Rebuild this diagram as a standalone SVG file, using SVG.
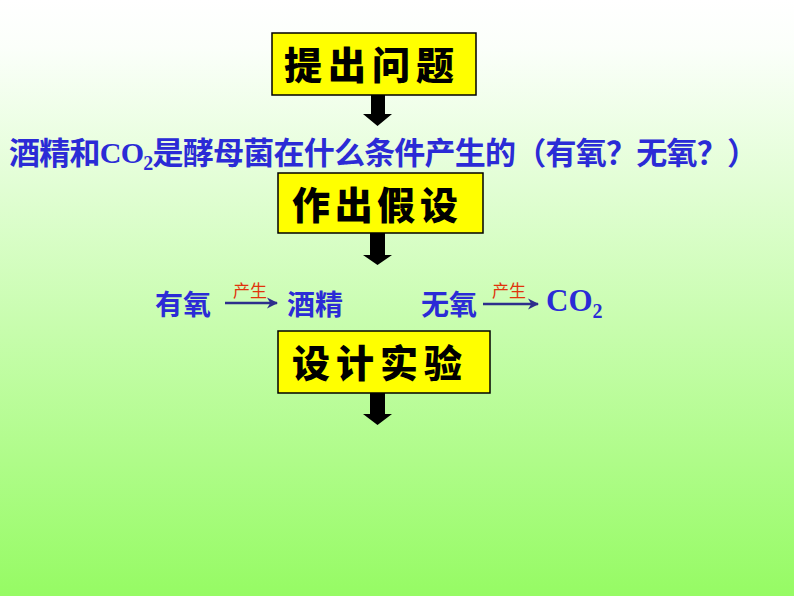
<svg xmlns="http://www.w3.org/2000/svg" width="794" height="596" viewBox="0 0 794 596">
  <defs>
    <linearGradient id="bg" x1="0" y1="0" x2="0" y2="1">
      <stop offset="0" stop-color="#ffffff"/>
      <stop offset="0.08" stop-color="#fbfffa"/>
      <stop offset="1" stop-color="#96fb64"/>
    </linearGradient>
    <marker id="ah" viewBox="0 0 10 10" refX="9" refY="5" markerWidth="4.5" markerHeight="4.5" orient="auto" markerUnits="strokeWidth">
      <path d="M0,0 L10,5 L0,10 L3,5 Z" fill="#2e2e8c"/>
    </marker>
    <style>
      .box { fill: #ffff00; stroke: #000000; stroke-width: 1.5; }
      .title { font-family: "Noto Sans CJK SC", "Noto Sans CJK JP", sans-serif; font-weight: 900; font-size: 38px; fill: #000000; }
      .blue { font-family: "Noto Sans CJK SC", "Noto Sans CJK JP", sans-serif; font-weight: 700; fill: #2b2bd6; }
      .latin { font-family: "Liberation Serif", "Noto Sans CJK SC", serif; font-weight: 700; }
      .red { font-family: "Noto Sans CJK SC", "Noto Sans CJK JP", sans-serif; font-weight: 400; font-size: 17px; fill: #e0340c; }
      .block { fill: #000000; }
      .thin { stroke: #2e2e8c; stroke-width: 2.5; fill: none; marker-end: url(#ah); }
    </style>
  </defs>
  <rect x="0" y="0" width="794" height="596" fill="url(#bg)"/>

  <g id="box-question">
    <rect class="box" x="272" y="33" width="204" height="62"/>
    <text class="title" x="284" y="79" textLength="170" lengthAdjust="spacing">提出问题</text>
  </g>

  <g id="question-text">
    <text class="blue" x="9" y="164" font-size="31" textLength="749" lengthAdjust="spacing">酒精和<tspan class="latin" font-size="30" dy="-1">CO</tspan><tspan class="latin" font-size="20" dy="7">2</tspan><tspan dy="-6">是酵母菌在什么条件产生的（有氧？无氧？）</tspan></text>
  </g>

  <g id="box-hypothesis">
    <rect class="box" x="278" y="173" width="205" height="60"/>
    <text class="title" x="292" y="219" textLength="166" lengthAdjust="spacing">作出假设</text>
  </g>

  <g id="hyp-aerobic">
    <text class="blue" x="155" y="315" font-size="28">有氧</text>
    <text class="red" x="233" y="297">产生</text>
    <text class="blue" x="287" y="315" font-size="28">酒精</text>
  </g>

  <g id="hyp-anaerobic">
    <text class="blue" x="421" y="315" font-size="28">无氧</text>
    <text class="red" x="492" y="297">产生</text>
    <text class="blue" x="546" y="311" font-size="31"><tspan class="latin">CO</tspan><tspan class="latin" font-size="20" dy="7">2</tspan></text>
  </g>

  <g id="box-experiment">
    <rect class="box" x="278" y="331" width="212" height="62"/>
    <text class="title" x="292" y="377" textLength="170" lengthAdjust="spacing">设计实验</text>
  </g>

  <g id="connectors">
    <polygon class="block" points="371,95 385,95 385,114 392,114 377.5,126 363,114 371,114"/>
    <polygon class="block" points="370,233 385,233 385,255 392,255 377.5,265 363,255 370,255"/>
    <polygon class="block" points="370,393 385,393 385,414 392,414 377.5,425 363,414 370,414"/>
    <line class="thin" x1="225" y1="303" x2="277" y2="303"/>
    <line class="thin" x1="483" y1="304" x2="538" y2="304"/>
  </g>
</svg>
